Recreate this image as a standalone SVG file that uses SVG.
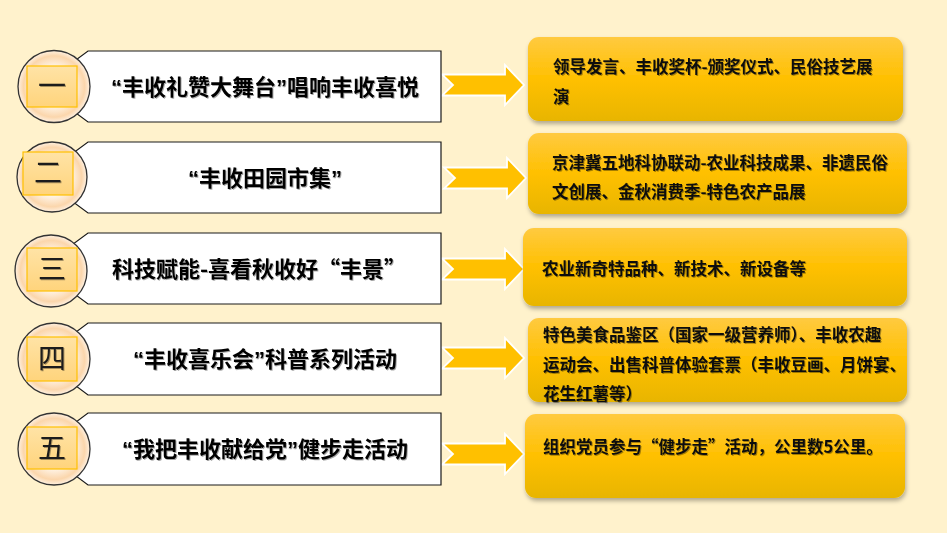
<svg xmlns="http://www.w3.org/2000/svg" xmlns:xlink="http://www.w3.org/1999/xlink" width="947" height="533" viewBox="0 0 947 533">
<defs>
<radialGradient id="gCircle" cx="0.5" cy="0.5" r="0.5">
<stop offset="0" stop-color="#ffffff"/>
<stop offset="0.55" stop-color="#fff4e6"/>
<stop offset="0.85" stop-color="#fbd6ac"/>
<stop offset="0.95" stop-color="#fde8d0"/>
<stop offset="1" stop-color="#fdf0e0"/>
</radialGradient>
<linearGradient id="gSquare" x1="0" y1="0" x2="0" y2="1">
<stop offset="0" stop-color="#ffe3a6"/>
<stop offset="1" stop-color="#ffd47c"/>
</linearGradient>
<linearGradient id="gYellow" x1="0" y1="0" x2="0" y2="1">
<stop offset="0" stop-color="#ffca40"/>
<stop offset="0.5" stop-color="#ffc000"/>
<stop offset="1" stop-color="#e8b500"/>
</linearGradient>
<filter id="shadow" x="-5%" y="-10%" width="112%" height="130%">
<feDropShadow dx="1" dy="3" stdDeviation="2" flood-color="#000" flood-opacity="0.3"/>
</filter>
<filter id="tshadow" x="-5%" y="-20%" width="110%" height="150%">
<feDropShadow dx="1" dy="1" stdDeviation="0.7" flood-color="#000" flood-opacity="0.35"/>
</filter>
<path id="arrow" d="M442,-10.5 L505,-10.5 L505,-20 L524,0 L505,20 L505,10.5 L442,10.5 L453,0 Z"/>
</defs>
<style>
.bg{fill:#fff2cc}
.wbox{fill:#ffffff;stroke:#1a1a1a;stroke-width:1.2}
.circ{fill:url(#gCircle);stroke:#333;stroke-width:1.3}
.sq{fill:url(#gSquare);stroke:#ffc000;stroke-width:1.2}
.num{font-family:"Noto Sans CJK SC",sans-serif;font-size:28px;fill:#1a1a1a;text-anchor:middle;filter:url(#tshadow)}
.title{font-family:"Liberation Sans","Noto Sans CJK SC",sans-serif;font-size:22px;font-weight:bold;fill:#000;text-anchor:middle;filter:url(#tshadow)}
.titlecjk{font-family:"Noto Sans CJK SC",sans-serif;font-size:22px;font-weight:bold;fill:#000;text-anchor:middle;filter:url(#tshadow)}
.ybox{fill:url(#gYellow);filter:url(#shadow)}
.desc{font-family:"Noto Sans CJK SC",sans-serif;font-size:16.5px;font-weight:bold;fill:#111;filter:url(#tshadow)}
.arr{fill:#ffc000;stroke:#ffffff;stroke-width:1.8;stroke-linejoin:miter}
</style>
<rect class="bg" x="0" y="0" width="947" height="533"/>

<g id="connectors">
<use xlink:href="#arrow" class="arr" transform="translate(0,85)"/>
<use xlink:href="#arrow" class="arr" transform="translate(2,178)"/>
<use xlink:href="#arrow" class="arr" transform="translate(0,269)"/>
<use xlink:href="#arrow" class="arr" transform="translate(0,358)"/>
<use xlink:href="#arrow" class="arr" transform="translate(0,454)"/>
</g>

<g id="node-1">
<polygon class="wbox" points="88,51 441,51 441,122 88,122 40,86.5"/>
<circle class="circ" cx="54" cy="86.5" r="36"/>
<rect class="sq" x="27" y="66" width="50" height="41"/>
<text class="num" x="52" y="96">一</text>
<text class="title" x="265" y="95">“丰收礼赞大舞台”唱响丰收喜悦</text>
</g>

<g id="node-2">
<polygon class="wbox" points="88,142 441,142 441,213 88,213 40,177.5"/>
<circle class="circ" cx="52" cy="177" r="35"/>
<rect class="sq" x="23" y="152" width="50" height="43"/>
<text class="num" x="48" y="183">二</text>
<text class="title" x="265" y="186">“丰收田园市集”</text>
</g>

<g id="node-3">
<polygon class="wbox" points="88,233 441,233 441,304 88,304 40,268.5"/>
<circle class="circ" cx="51" cy="271" r="36"/>
<rect class="sq" x="27" y="248" width="50" height="43"/>
<text class="num" x="52" y="279">三</text>
<text class="titlecjk" x="259" y="277">科技赋能-喜看秋收好“丰景”</text>
</g>

<g id="node-4">
<polygon class="wbox" points="88,323 441,323 441,395 88,395 40,359"/>
<circle class="circ" cx="54" cy="359" r="36"/>
<rect class="sq" x="27" y="337" width="50" height="44"/>
<text class="num" x="52" y="369">四</text>
<text class="title" x="265" y="367">“丰收喜乐会”科普系列活动</text>
</g>

<g id="node-5">
<polygon class="wbox" points="88,413 441,413 441,485 88,485 40,449"/>
<circle class="circ" cx="54" cy="449" r="36"/>
<rect class="sq" x="27" y="427" width="50" height="42"/>
<text class="num" x="52" y="458">五</text>
<text class="title" x="265" y="457">“我把丰收献给党”健步走活动</text>
</g>

<g id="detail-1">
<rect class="ybox" x="528" y="37" width="375" height="84" rx="11"/>
<text class="desc" x="553" y="73">领导发言、丰收奖杯-颁奖仪式、民俗技艺展</text>
<text class="desc" x="553" y="103">演</text>
</g>

<g id="detail-2">
<rect class="ybox" x="528" y="133" width="379" height="81" rx="11"/>
<text class="desc" x="552" y="169">京津冀五地科协联动-农业科技成果、非遗民俗</text>
<text class="desc" x="552" y="198">文创展、金秋消费季-特色农产品展</text>
</g>

<g id="detail-3">
<rect class="ybox" x="523" y="228" width="384" height="78" rx="11"/>
<text class="desc" x="542" y="275">农业新奇特品种、新技术、新设备等</text>
</g>

<g id="detail-4">
<rect class="ybox" x="528" y="318" width="379" height="84" rx="11"/>
<text class="desc" x="543" y="341">特色美食品鉴区（国家一级营养师）、丰收农趣</text>
<text class="desc" x="543" y="371">运动会、出售科普体验套票（丰收豆画、月饼宴、</text>
<text class="desc" x="543" y="400">花生红薯等）</text>
</g>

<g id="detail-5">
<rect class="ybox" x="525" y="414" width="380" height="84" rx="11"/>
<text class="desc" x="543" y="453">组织党员参与“健步走”活动，公里数5公里。</text>
</g>
</svg>
